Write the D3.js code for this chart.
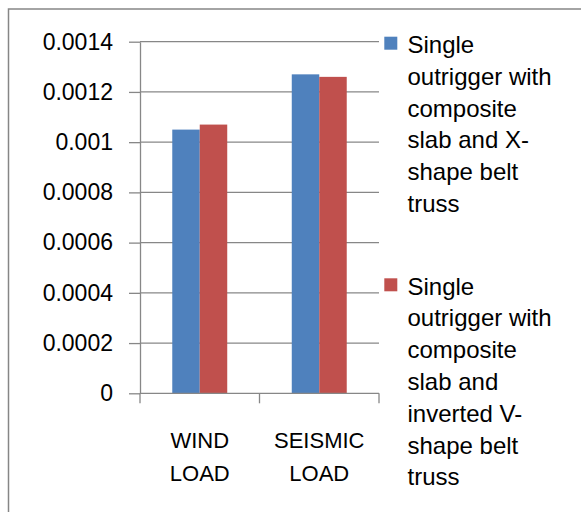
<!DOCTYPE html>
<html>
<head>
<meta charset="utf-8">
<script src="https://cdn.jsdelivr.net/npm/d3@7"></script>
<style>
    body { margin: 0; background: #fff; }
    text { font-family: "Liberation Sans", Arial, sans-serif; fill: #000; }
</style>
</head>
<body>
<script>
// chart data
var categories = ["WIND LOAD", "SEISMIC LOAD"];
var seriesNames = [
    "Single outrigger with composite slab and X-shape belt truss",
    "Single outrigger with composite slab and inverted V-shape belt truss"
];
var xShapeValues = [0.00105, 0.00127];
var invertedVValues = [0.00107, 0.00126];
var yTicks = [0, 0.0002, 0.0004, 0.0006, 0.0008, 0.001, 0.0012, 0.0014];
var yTickLabels = ["0", "0.0002", "0.0004", "0.0006", "0.0008", "0.001", "0.0012", "0.0014"];
// legend text is wrapped the same way as in the picture
var legendLines = [
    ["Single", "outrigger with", "composite", "slab and X-", "shape belt", "truss"],
    ["Single", "outrigger with", "composite", "slab and", "inverted V-", "shape belt", "truss"]
];
var colors = ["#4f81bd", "#c0504d"];

function drawChart() {
    let width = 581, height = 512;
    let plot = { left: 140, right: 379, top: 41.7, bottom: 393.3 };

    let svg = d3.select("body")
        .append("svg")
        .attr("width", width)
        .attr("height", height);

    // outer chart border (runs off the right and bottom edges)
    svg.append("rect")
        .attr("x", 8.5)
        .attr("y", 9)
        .attr("width", 600)
        .attr("height", 600)
        .attr("fill", "none")
        .attr("stroke", "#868686")
        .attr("stroke-width", 1.5);

    let x0 = d3.scaleBand()
        .domain(categories)
        .range([plot.left, plot.right])
        .paddingInner(0.54)
        .paddingOuter(0.27);

    let x1 = d3.scaleBand()
        .domain([0, 1])
        .range([0, x0.bandwidth()]);

    let y = d3.scaleLinear()
        .domain([0, 0.0014])
        .range([plot.bottom, plot.top]);

    // gridlines
    svg.append("g")
        .selectAll("line")
        .data(yTicks.slice(1))
        .enter().append("line")
        .attr("x1", plot.left)
        .attr("x2", plot.right)
        .attr("y1", d => y(d))
        .attr("y2", d => y(d))
        .attr("stroke", "#878787")
        .attr("stroke-width", 1.3);

    // bars
    let rows = categories.map((c, i) => [xShapeValues[i], invertedVValues[i]]);
    svg.append("g")
        .selectAll("g")
        .data(rows)
        .enter().append("g")
        .attr("transform", (d, i) => "translate(" + x0(categories[i]) + ",0)")
        .selectAll("rect")
        .data(d => d)
        .enter().append("rect")
        .attr("x", (d, j) => x1(j))
        .attr("y", d => y(d))
        .attr("width", x1.bandwidth())
        .attr("height", d => y(0) - y(d))
        .attr("fill", (d, j) => colors[j]);

    // y axis
    let yAxis = svg.append("g")
        .attr("transform", "translate(" + plot.left + ",0)")
        .call(d3.axisLeft(y)
            .tickValues(yTicks)
            .tickFormat((d, i) => yTickLabels[i])
            .tickSize(11)
            .tickSizeOuter(0)
            .tickPadding(16));
    yAxis.selectAll("line, path").attr("stroke", "#878787").attr("stroke-width", 1.3);
    yAxis.selectAll("text")
        .attr("font-size", 23)
        .attr("font-family", "Liberation Sans, Arial, sans-serif")
        .attr("fill", "#000");

    // x axis line with tick marks between the categories
    let xAxis = svg.append("g");
    xAxis.append("line")
        .attr("x1", plot.left)
        .attr("x2", plot.right)
        .attr("y1", y(0))
        .attr("y2", y(0))
        .attr("stroke", "#878787")
        .attr("stroke-width", 1.3);
    let step = x0.step();
    xAxis.selectAll(".xtick")
        .data(d3.range(categories.length + 1))
        .enter().append("line")
        .attr("class", "xtick")
        .attr("x1", d => plot.left + d * step)
        .attr("x2", d => plot.left + d * step)
        .attr("y1", y(0))
        .attr("y2", y(0) + 10)
        .attr("stroke", "#878787")
        .attr("stroke-width", 1.3);

    // category labels, two lines each
    categories.forEach(c => {
        let cx = x0(c) + x0.bandwidth() / 2;
        c.split(" ").forEach((word, k) => {
            svg.append("text")
                .attr("x", cx)
                .attr("y", 448 + k * 32.7)
                .attr("text-anchor", "middle")
                .attr("font-size", 22)
                .text(word);
        });
    });

    // legend
    let legendTop = [36.7, 278.3];
    legendLines.forEach((lines, i) => {
        let g = svg.append("g").attr("class", "legend");
        g.append("rect")
            .attr("x", 384.3)
            .attr("y", legendTop[i])
            .attr("width", 13)
            .attr("height", 13)
            .attr("fill", colors[i]);
        lines.forEach((line, k) => {
            g.append("text")
                .attr("x", 407.5)
                .attr("y", legendTop[i] + 16.3 + k * 31.8)
                .attr("font-size", 24)
                .text(line);
        });
    });
}

drawChart();
</script>
</body>
</html>
